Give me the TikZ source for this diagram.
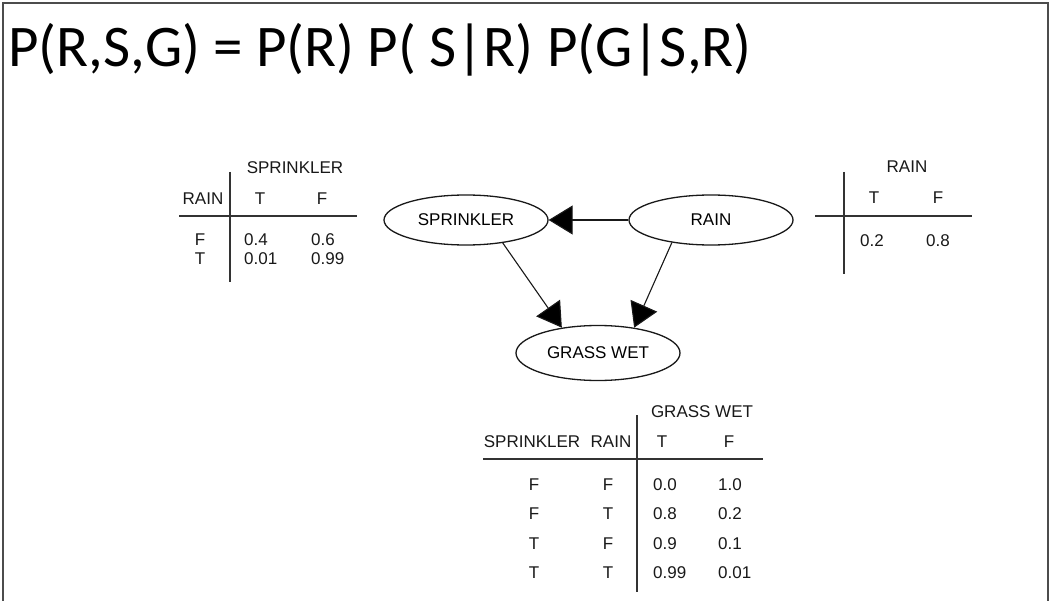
\documentclass[tikz,border=0pt]{standalone}
\usepackage{fontspec}
\setmainfont{Liberation Sans}
\newfontfamily\titlefont{Carlito}
\usetikzlibrary{shapes.geometric,arrows.meta}

\begin{document}
\begin{tikzpicture}[x=1bp,y=-1bp,
  lbl/.style={inner sep=0pt, anchor=base, font=\fontsize{17bp}{20bp}\selectfont, text=black!90},
  val/.style={lbl, anchor=base west},
  rule/.style={line width=1.3bp, draw=black!80},
  var/.style={ellipse, draw=black!90, line width=1.3bp, minimum width=164bp,
              minimum height=50bp, inner sep=0pt, font=\fontsize{17bp}{20bp}\selectfont},
  arr/.style={line width=1.1bp, draw=black!90, -{Triangle[length=24bp,width=29bp,fill=black]}}]

\useasboundingbox (0,0) rectangle (1050,601);
\fill[white] (0,0) rectangle (1050,601);
\draw[line width=2bp, black!70] (3,601) -- (3,3) -- (1048,3) -- (1048,601);

% factorisation
\node[inner sep=0pt, anchor=base west, font=\titlefont\fontsize{59bp}{61bp}\selectfont]
  (eq) at (8,67) {P(R,S,G) = P(R) P( S|R) P(G|S,R)};

% network
\node[var] (spr) at (466,220) {SPRINKLER};
\node[var] (rain) at (711,220) {RAIN};
\node[var, minimum height=55bp] (gw) at (598,353) {GRASS WET};
\draw[arr] (rain) -- (spr);
\draw[arr] (spr.-32) -- (gw.145);
\draw[arr] (rain.-150) -- (gw.35);

% P(S|R)
\node[lbl] (sh) at (295,174) {SPRINKLER};
\node[lbl] (sr) at (203,205) {RAIN};
\node[lbl] (st) at (260,205) {T};
\node[lbl] (sf) at (322,205) {F};
\node[lbl] (s1) at (200,246) {F};
\node[val] (s11) at (244,246) {0.4};
\node[val] (s12) at (311,246) {0.6};
\node[lbl] (s2) at (200,265) {T};
\node[val] (s21) at (244,265) {0.01};
\node[val] (s22) at (311,265) {0.99};
\draw[rule] (230,172) -- (230,282);
\draw[rule] (179,216) -- (357,216);

% P(R)
\node[lbl] (rh) at (907,173) {RAIN};
\node[lbl] (rt) at (874,204) {T};
\node[lbl] (rf) at (938,204) {F};
\node[val] (r1) at (860,247) {0.2};
\node[val] (r2) at (926,247) {0.8};
\draw[rule] (844,172) -- (844,274);
\draw[rule] (815,216) -- (972,216);

% P(G|S,R)
\node[lbl] (gh) at (702,417) {GRASS WET};
\node[lbl] (gs) at (532,447) {SPRINKLER};
\node[lbl] (gr) at (611,447) {RAIN};
\node[lbl] (gt) at (662,447) {T};
\node[lbl] (gf) at (729,447) {F};
\foreach \s/\r/\t/\f/\y in {F/F/0.0/1.0/490, F/T/0.8/0.2/519, T/F/0.9/0.1/549, T/T/0.99/0.01/578}{
  \node[lbl] at (534,\y) {\s};
  \node[lbl] at (608,\y) {\r};
  \node[val] at (653,\y) {\t};
  \node[val] at (718,\y) {\f};
}
\draw[rule] (637,415) -- (637,592);
\draw[rule] (483,459) -- (763,459);
\end{tikzpicture}
\end{document}
